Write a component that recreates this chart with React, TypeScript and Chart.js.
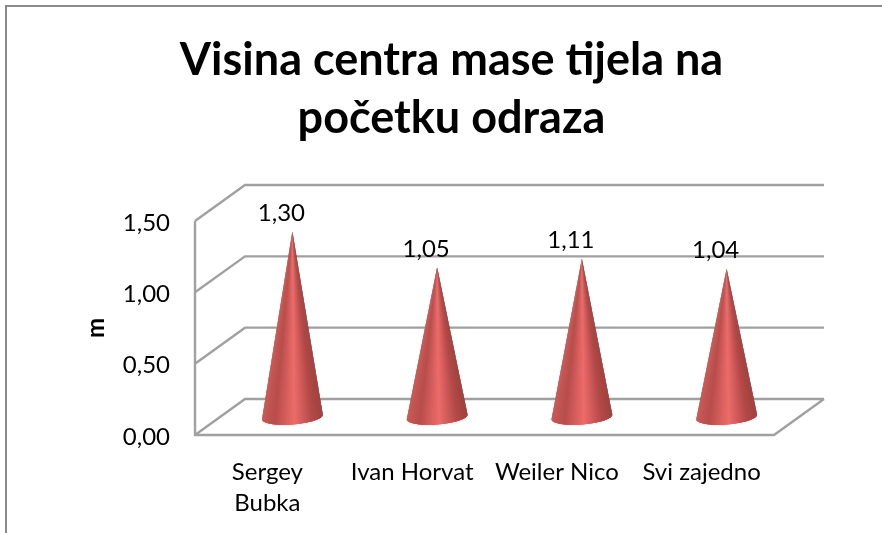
import React, { useEffect, useRef } from "react";
import { Chart, registerables } from "chart.js";

Chart.register(...registerables);

const chartTitle = ["Visina centra mase tijela na", "početku odraza"];
const categories = [["Sergey", "Bubka"], "Ivan Horvat", "Weiler Nico", "Svi zajedno"];
const heights = [1.3, 1.05, 1.11, 1.04];
const yTicksMax = 1.5;
const yStep = 0.5;
const yTitle = "m";

const FONT = "Lato, 'Open Sans', sans-serif";
const DEPTH_X = 50;
const DEPTH_Y = 36;
const LINE = "#a0a0a0";
const fmt = (v: number) => v.toFixed(2).replace(".", ",");

const stops: [number, number[]][] = [
  [-1, [200, 90, 86]],
  [-0.6, [184, 78, 76]],
  [0.05, [236, 108, 106]],
  [0.65, [178, 74, 72]],
  [1, [160, 66, 64]],
];
function shade(t: number) {
  for (let i = 0; i < stops.length - 1; i++) {
    const [a, ca] = stops[i];
    const [b, cb] = stops[i + 1];
    if (t <= b) {
      const k = (t - a) / (b - a);
      const c = ca.map((v, j) => Math.round(v + (cb[j] - v) * k));
      return `rgb(${c[0]},${c[1]},${c[2]})`;
    }
  }
  return "rgb(160,66,64)";
}

const frame = {
  id: "frame3d",
  beforeDatasetsDraw(chart: any) {
    const { ctx, chartArea: a, scales } = chart;
    const y = scales.y;
    ctx.save();
    ctx.strokeStyle = LINE;
    ctx.lineWidth = 2.4;
    ctx.beginPath();
    for (const t of y.ticks) {
      const py = y.getPixelForValue(t.value);
      ctx.moveTo(a.left, py);
      ctx.lineTo(a.left + DEPTH_X, py - DEPTH_Y);
      ctx.lineTo(a.right + DEPTH_X, py - DEPTH_Y);
    }
    ctx.moveTo(a.left, a.top);
    ctx.lineTo(a.left, a.bottom);
    ctx.lineTo(a.right, a.bottom);
    ctx.lineTo(a.right + DEPTH_X, a.bottom - DEPTH_Y);
    ctx.stroke();
    ctx.restore();
  },
  afterDatasetsDraw(chart: any) {
    const { ctx } = chart;
    const bars = chart.getDatasetMeta(0).data;
    const rx = 30.5;
    const ry = 7.5;
    const tilt = (-4.5 * Math.PI) / 180;
    bars.forEach((bar: any, idx: number) => {
      const cx = bar.x + DEPTH_X / 2;
      const by = bar.base - DEPTH_Y / 2;
      const ty = bar.y - DEPTH_Y / 2;
      const pt = (th: number) => {
        const ex = rx * Math.cos(th);
        const ey = ry * Math.sin(th);
        return [cx + ex * Math.cos(tilt) - ey * Math.sin(tilt), by + ex * Math.sin(tilt) + ey * Math.cos(tilt)];
      };
      const N = 120;
      ctx.save();
      // painter's wedges: each one overlaps the next so no seams appear
      for (let i = 0; i < N; i++) {
        const t0 = Math.PI - (i * Math.PI) / N;
        const t1 = Math.max(0, Math.PI - ((i + 3) * Math.PI) / N);
        const col = shade(Math.cos(Math.PI - ((i + 0.5) * Math.PI) / N));
        ctx.fillStyle = col;
        ctx.beginPath();
        ctx.moveTo(cx, ty);
        for (let j = 0; j <= 3; j++) {
          const p = pt(t0 + ((t1 - t0) * j) / 3);
          ctx.lineTo(p[0], p[1]);
        }
        ctx.closePath();
        ctx.fill();
      }
      ctx.fillStyle = "#000";
      ctx.font = `24px ${FONT}`;
      ctx.textAlign = "center";
      ctx.textBaseline = "middle";
      ctx.fillText(fmt(heights[idx]), cx - 11, ty - 18);
      ctx.restore();
    });
  },
};

export default function App() {
  const ref = useRef<HTMLCanvasElement>(null);
  useEffect(() => {
    document.body.style.margin = "0";
    document.body.style.background = "#fff";
    const chart = new Chart(ref.current!, {
      type: "bar",
      data: {
        labels: categories as any,
        datasets: [{ label: yTitle, data: heights, backgroundColor: "rgba(0,0,0,0)", borderWidth: 0 }],
      },
      plugins: [frame],
      options: {
        animation: false,
        responsive: false,
        layout: { padding: { left: 100, right: 79, top: 0, bottom: 0 } },
        plugins: {
          legend: { display: false },
          tooltip: { enabled: false },
          title: {
            display: true,
            text: chartTitle,
            color: "#000",
            font: { family: FONT, size: 45, weight: "bold", lineHeight: 58 / 45 },
            padding: { top: 31, bottom: 74 },
          },
        },
        scales: {
          x: {
            grid: { display: false, drawTicks: false },
            border: { display: false },
            afterFit: (s: any) => { s.height = 98; },
            ticks: { color: "#000", padding: 22, maxRotation: 0, autoSkip: false, font: { family: FONT, size: 24, lineHeight: 31 / 24 } },
          },
          y: {
            min: 0,
            max: yTicksMax,
            grid: { display: false, drawTicks: false },
            border: { display: false },
            afterFit: (s: any) => { s.width = 95; },
            title: {
              display: true,
              text: yTitle,
              color: "#000",
              font: { family: FONT, size: 24, weight: "bold" },
              padding: { top: -18, bottom: 0 },
            },
            ticks: { stepSize: yStep, color: "#000", padding: 25, labelOffset: 2, font: { family: FONT, size: 24 }, callback: (v: any) => fmt(Number(v)) },
          },
          spacer: {
            type: "linear",
            position: "right",
            grid: { display: false, drawTicks: false },
            border: { display: false },
            ticks: { display: false },
            afterFit: (s: any) => { s.width = 29; },
          },
        },
      },
    } as any);
    return () => chart.destroy();
  }, []);
  return (
    <div style={{ position: "absolute", left: 0, top: 0, width: 882, height: 533, overflow: "hidden" }}>
      <canvas ref={ref} width={882} height={533} style={{ display: "block" }} />
      <div style={{ position: "absolute", left: 5, top: 5, right: -5, bottom: -5, borderLeft: "2px solid #8a8a8a", borderTop: "2px solid #8a8a8a", pointerEvents: "none" }} />
    </div>
  );
}
